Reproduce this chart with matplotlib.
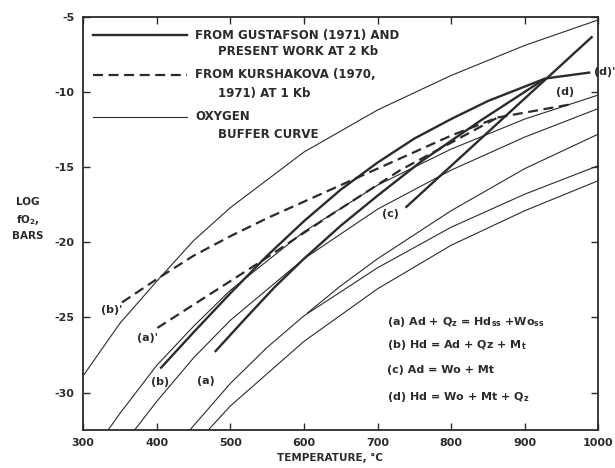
import matplotlib
matplotlib.use('Agg')
import matplotlib.pyplot as plt

plt.rcParams['font.family'] = ['DejaVu Sans']
plt.rcParams['font.weight'] = 'bold'
plt.rcParams['mathtext.default'] = 'bf'
plt.rcParams['axes.unicode_minus'] = False

ink = '#2b2b2b'

# oxygen buffer curves (temperature C, log fO2)
t_mh = [300, 350, 400, 450, 500, 600, 700, 800, 900, 1000]
f_mh = [-28.9, -25.4, -22.6, -19.9, -17.7, -14.0, -11.2, -8.9, -6.9, -5.2]
t_nno = [334, 350, 400, 450, 500, 600, 700, 800, 900, 1000]
f_nno = [-32.5, -31.4, -28.2, -25.6, -23.2, -19.3, -16.2, -13.8, -11.8, -10.2]
t_fmq = [370, 400, 450, 500, 600, 700, 800, 900, 1000]
f_fmq = [-32.5, -30.6, -27.7, -25.2, -21.1, -17.8, -15.2, -13.0, -11.1]
t_iw = [445, 500, 550, 600, 700, 800, 900, 1000]
f_iw = [-32.5, -29.4, -27.0, -24.9, -21.7, -19.0, -16.8, -14.9]
t_mw = [605, 650, 700, 800, 900, 1000]
f_mw = [-24.7, -22.9, -21.1, -17.9, -15.1, -12.8]
t_qfi = [470, 500, 600, 700, 800, 900, 1000]
f_qfi = [-32.5, -30.9, -26.6, -23.1, -20.2, -17.9, -15.9]
buffers = [(t_mh, f_mh), (t_nno, f_nno), (t_fmq, f_fmq), (t_iw, f_iw),
           (t_mw, f_mw), (t_qfi, f_qfi)]

# Gustafson (1971) and present work, 2 kb
t_a2 = [479, 520, 560, 600, 650, 700, 760, 840, 928]
f_a2 = [-27.3, -25.1, -23.0, -21.1, -18.9, -16.9, -14.6, -11.9, -9.1]
t_b2 = [405, 450, 500, 550, 600, 650, 700, 750, 800, 850, 928]
f_b2 = [-28.4, -26.0, -23.4, -20.9, -18.6, -16.5, -14.7, -13.1, -11.8, -10.6, -9.1]
t_c2 = [738, 992]
f_c2 = [-17.7, -6.3]
t_d2 = [928, 989]
f_d2 = [-9.1, -8.7]

# Kurshakova (1970, 1971), 1 kb
t_a1 = [401, 541, 636, 731, 799, 863]
f_a1 = [-25.7, -21.3, -18.2, -15.2, -13.4, -11.7]
t_b1 = [353, 405, 450, 500, 550, 600, 650, 700, 750, 800, 863]
f_b1 = [-24.0, -22.3, -20.9, -19.6, -18.4, -17.3, -16.2, -15.1, -14.0, -12.9, -11.7]
t_d1 = [863, 965]
f_d1 = [-11.7, -10.8]

fig = plt.figure(figsize=(6.15, 4.68), dpi=100)
ax = fig.add_axes([0.135, 0.081, 0.838, 0.883])

for t, f in buffers:
    ax.plot(t, f, color=ink, lw=0.8)

for t, f in [(t_a2, f_a2), (t_b2, f_b2), (t_c2, f_c2), (t_d2, f_d2)]:
    ax.plot(t, f, color=ink, lw=1.7, solid_capstyle='butt')

for t, f in [(t_a1, f_a1), (t_b1, f_b1), (t_d1, f_d1)]:
    ax.plot(t, f, color=ink, lw=1.6, dashes=[4.5, 2.5])

# curve labels
fs = 8
ax.text(339, -24.5, "(b)'", fontsize=fs, color=ink, ha='center', va='center')
ax.text(387, -26.4, "(a)'", fontsize=fs, color=ink, ha='center', va='center')
ax.text(405, -29.3, "(b)", fontsize=fs, color=ink, ha='center', va='center')
ax.text(467, -29.2, "(a)", fontsize=fs, color=ink, ha='center', va='center')
ax.text(718, -18.1, "(c)", fontsize=fs, color=ink, ha='center', va='center')
ax.text(955, -10.0, "(d)", fontsize=fs, color=ink, ha='center', va='center')
ax.text(1008, -8.7, "(d)'", fontsize=fs, color=ink, ha='center', va='center',
        clip_on=False)

# legend
tr = ax.transAxes
ax.plot([0.019, 0.202], [0.956, 0.956], color=ink, lw=1.7, transform=tr)
ax.plot([0.019, 0.202], [0.860, 0.860], color=ink, lw=1.6, dashes=[4.5, 2.5], transform=tr)
ax.plot([0.019, 0.202], [0.758, 0.758], color=ink, lw=0.8, transform=tr)
lf = 8.5
ax.text(0.2175, 0.956, 'FROM GUSTAFSON (1971) AND', transform=tr, fontsize=lf, color=ink, va='center')
ax.text(0.262, 0.915, 'PRESENT WORK AT 2 Kb', transform=tr, fontsize=lf, color=ink, va='center')
ax.text(0.2175, 0.860, 'FROM KURSHAKOVA (1970,', transform=tr, fontsize=lf, color=ink, va='center')
ax.text(0.262, 0.815, '1971) AT 1 Kb', transform=tr, fontsize=lf, color=ink, va='center')
ax.text(0.2175, 0.758, 'OXYGEN', transform=tr, fontsize=lf, color=ink, va='center')
ax.text(0.262, 0.715, 'BUFFER CURVE', transform=tr, fontsize=lf, color=ink, va='center')

# reactions
rf = 8
ax.text(0.590, 0.2615, '(a) Ad + Q$_z$ = Hd$_{ss}$ +Wo$_{ss}$', transform=tr, fontsize=rf, color=ink, va='center')
ax.text(0.590, 0.206, '(b) Hd = Ad + Qz + M$_t$', transform=tr, fontsize=rf, color=ink, va='center')
ax.text(0.590, 0.145, '(c) Ad = Wo + Mt', transform=tr, fontsize=rf, color=ink, va='center')
ax.text(0.590, 0.080, '(d) Hd = Wo + Mt + Q$_z$', transform=tr, fontsize=rf, color=ink, va='center')

ax.set_xlim(300, 1000)
ax.set_ylim(-32.5, -5)
ax.set_xticks(range(300, 1001, 100))
ax.set_yticks([-5, -10, -15, -20, -25, -30])
ax.tick_params(direction='in', length=5, width=1, colors=ink, labelsize=8,
               top=True, right=True, pad=6)
for s in ax.spines.values():
    s.set_color(ink)
    s.set_linewidth(1.3)

fig.text(330 / 615, 1 - 458 / 468, 'TEMPERATURE, °C', fontsize=7.5, color=ink,
         ha='center', va='center')
fig.text(28 / 615, 1 - 219 / 468, 'LOG\nfO$_2$,\nBARS', fontsize=7.5, color=ink,
         ha='center', va='center', linespacing=1.6)

fig.savefig('out.png', dpi=100)
